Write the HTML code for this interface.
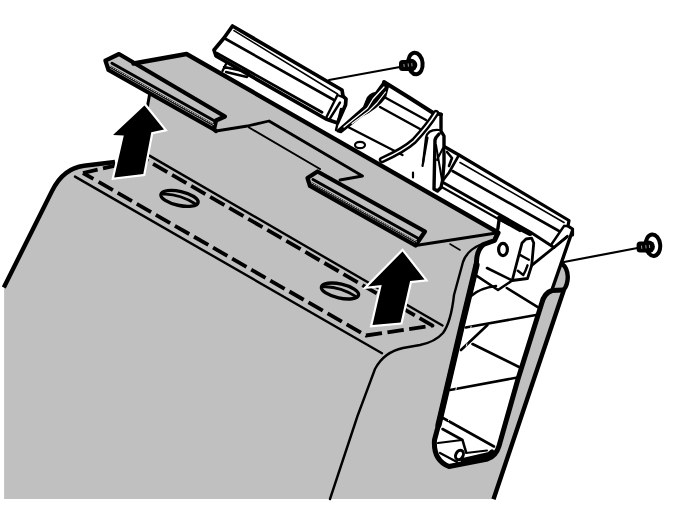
<!DOCTYPE html>
<html><head><meta charset="utf-8">
<style>
html,body{margin:0;padding:0;background:#fff;width:674px;height:505px;overflow:hidden;font-family:"Liberation Sans",sans-serif}
svg{display:block}
</style></head><body>
<svg width="674" height="505" viewBox="0 0 674 505" fill="none" stroke="#000" stroke-linecap="round" stroke-linejoin="round">
<rect width="674" height="505" fill="#fff" stroke="none"/>

<!-- GRAY BODY -->
<path id="gray" fill="#c0c0c0" stroke="none" d="M4.1,499 L4.1,287 L52,191 Q63.3,168.3 84,165.8 L115,162 L147,157 L149,94 L108.5,70 L105.4,60.6 L119,54 L133.5,63.5 L186.5,54 L498,232.5 L494.5,240.5 L483.5,244.5 L477,256 L476,267.5 L461,325 L437.5,425 L434,440 Q433,460 449,466.5 L487.5,459 Q496,456 498.5,446 L517.5,379 L541,304 Q543.5,293 552,290.5 L553,288 L562,263.7 Q567.6,268 567.8,277 Q567.6,285 564,289.5 L493.5,499 Z"/>

<!-- BACK WHITE PARTS -->
<g id="back" stroke-width="2.4">
<!-- bar 1 -->
<path fill="#fff" d="M232.5,26 L342,90 L343,96 L346,99 L345.5,105 L337.5,123 L326,119 L216,56 L214,50 L224,38 Z" stroke-width="3.7"/>
<path d="M234,30.6 L337.5,94" stroke-width="1.6"/>
<path d="M224,38 L334,100" stroke-width="2.6"/>
<path d="M217,53.2 L322,112.2" stroke-width="2.8"/>
<path d="M337.5,95 L326,118 M340,102.5 L329,120 M337.5,95 L345,98 M341,109 L336,130" stroke-width="2.4"/>
<!-- bar1 leg -->
<path d="M226,64 L222.5,71 M224,67 L248,72 M226,72 L247,77 L250,72" stroke-width="2.4"/>
<!-- screw 1 -->
<path d="M329,80 L400,67" stroke-width="2.2"/>
<g transform="translate(415.4,63.5)"><ellipse rx="7.2" ry="10.8" transform="rotate(-6)" stroke-width="4" fill="#fff"/><rect x="-16.4" y="-3.6" width="12" height="11" rx="3.5" fill="#000" stroke="none"/><circle cx="-4.4" cy="1.6" r="6.3" fill="#000" stroke="none"/><path d="M-11.5,0.8 L-11.2,3.2 M-7.2,0.3 L-7,2.8 M-3.6,0 L-3.4,2.4" stroke="#fff" stroke-width="0.6"/></g>
<!-- cradle -->
<path d="M384,82 L376,93 Q369,94.5 367,100 L364,107.5 L337.5,131 L341,132 L361,116 Q377,108 385,97 L388,86 Z" fill="#000" stroke-width="2.4"/>
<path d="M384,87 L373,99 L367.5,108 L344,127" stroke="#fff" stroke-width="1.3"/><path d="M385.5,92 L377,103 L369,111 L352,123.5" stroke="#fff" stroke-width="1.2"/>
<path d="M384,82 L409,97.5 L432.5,112.5 L441,114.4" stroke-width="4"/>
<path d="M386,98 L426,120 M380,107 L420,129" stroke-width="2.4"/>
<path d="M349,127.5 L402.5,155" stroke-width="2.4"/>
<path d="M436,113 Q428,126 414,141 Q404,150 382,160" stroke-width="6.4"/>
<path d="M436,113 Q428,126 414,141 Q404,150 382,160" stroke-width="1.6" stroke="#fff"/>
<ellipse cx="360" cy="145" rx="5" ry="3.2" stroke-width="2.2"/>
<!-- post -->
<path d="M441,114.4 L441,131 L444,136 L444,163 L442.5,181 L441,187.5 L437.5,191 L434,189 L435,140 L436,137.5 L439,134" stroke-width="3.4"/>
<path d="M423,163 L426,137.5 Q428,129 439,130" stroke-width="2.2"/>
<path d="M427.5,137.5 L422.5,166 M413,172.5 L413,177.5" stroke-width="2.2"/>
<path d="M436,145 L442,180 M437,160 L443,148" stroke-width="2"/>
<!-- bar 2 -->
<path fill="#fff" d="M445,147 L459,155 L569,220.5 L568,226 L572.5,229 L572.5,235 L562.5,258 L541,258 L554,247.5 L442.5,187.5 L449,172.5 Z" stroke="none"/>
<path d="M445,147 L459,155 L569,220.5 L568,226 L572.5,229 L572.5,235" stroke-width="3.2"/>
<path d="M459,155 L449,172.5 L442.5,181 M447,152 L452,158 L449,166" stroke-width="2.6"/>
<path d="M460,162.5 L564,222.5" stroke-width="1.6"/>
<path d="M452.5,171 L559,231" stroke-width="2.6"/>
<path d="M444,183 L531,232.5 L554,247.5" stroke-width="3"/>
<path d="M442.5,187.5 L520,231" stroke-width="2.2"/>
<path d="M564,226 L551,245 M567.5,236 L554,247.5 M568,226 L564,226" stroke-width="2.4"/>
<!-- bracket near corner -->
<path d="M499.3,218.4 L497.8,229" stroke-width="3.4"/><path d="M499.5,218 L530,233.5" stroke-width="5"/>
<ellipse cx="503" cy="249.5" rx="4.4" ry="6.2" stroke-width="3.2"/>
<path d="M512.2,280.5 L522,243 L526,239 L531.7,238.2 L533.75,243 L531.7,265.3 L527.5,278.5 Z" stroke-width="2.8"/>
<path d="M519.9,254.9 L528.9,259.7 M517.8,270.8 L523.3,275 Q526,270 527.5,265.3" stroke-width="2.4"/>
<path d="M531.7,265.3 L567,237" stroke-width="2.8"/>
<path d="M572,232 L552.6,288" stroke-width="3.4"/>
<!-- screw 2 -->
<path d="M564,262 L637.5,248" stroke-width="2.2"/>
<g transform="translate(653,245.2)"><ellipse rx="7.2" ry="10.8" transform="rotate(-6)" stroke-width="4" fill="#fff"/><rect x="-16.4" y="-3.6" width="12" height="11" rx="3.5" fill="#000" stroke="none"/><circle cx="-4.4" cy="1.6" r="6.3" fill="#000" stroke="none"/><path d="M-11.5,0.8 L-11.2,3.2 M-7.2,0.3 L-7,2.8 M-3.6,0 L-3.4,2.4" stroke="#fff" stroke-width="0.6"/></g>
</g>

<g id="inner" stroke-width="2.6">
<path d="M465.7,327.5 L536,315"/>
<path d="M487.5,325 L461,350"/>
<path d="M472.5,344 L520,367.5"/>
<path d="M450,390 L517.5,377.5"/>
<path d="M443,418 L494,446.5"/>
<path d="M442.5,429 L462.5,440 L466,452"/>
<path d="M506.8,288 L539,307.8"/>
<path d="M476.4,275.7 L498,290 L504,286 L512.2,280.5"/>
<path d="M471,296 Q480,288 496,286"/>
<path d="M487,268 L512.2,280.5"/>
<path d="M438,443 L462,440 M440,453 L457,462" stroke-width="2.2"/>
<path d="M463,460.5 L489,454.5 L492,452" stroke-width="5"/>
<path d="M466,453 L487,450.5" stroke-width="2"/>
<ellipse cx="459.5" cy="455" rx="3.6" ry="5" transform="rotate(28 459.5 455)" stroke-width="3"/>
</g>

<g id="lines">
<!-- cover outline top-left -->
<path d="M3.8,287.5 L52,191 Q63.3,168.3 84,165.8 L115,162" stroke-width="4.4" stroke-linecap="butt"/>
<!-- outer right line -->
<path d="M562,263.7 Q567.6,268 567.8,277 Q567.6,285 564,289.5 L493.5,499.3" stroke-width="4.4" stroke-linecap="butt"/>
<!-- opening thick outline -->
<path d="M498,233 L494.5,240.5 L483.5,244.5 Q478,249 476.8,258 L476,267.5 L462,325 L438.5,425 L434.5,440 Q433,460 449,466.5 L487.5,459 Q496,456 499,446 L518,379 L541.5,304 Q544,293 552,290.5 L563,290" stroke-width="5"/>
<path d="M476.5,265 L462,325 L438.5,425" stroke-width="6.2"/>
<path d="M477.5,300 L463.7,357 L447,427" stroke-width="0.9" stroke="#fff" stroke-dasharray="2.5 2"/>
<!-- bevel thin line -->
<path d="M75,176.6 L382,353.2" stroke-width="2.4"/>
<path d="M482,244 Q467,250 463,262 L454,295 Q451,322 443,333 Q435,342 420,345 L403,348 Q384,352 375,369 L357.5,416 L330,499" stroke-width="2.4"/>
<!-- thin solid upper -->
<path d="M149.4,155.6 L442.5,325.5" stroke-width="2.4"/>
<!-- dashed rect -->
<path d="M83,173 L144.6,158.9" stroke-width="3.8" stroke-dasharray="15 5.5" stroke-linecap="butt"/>
<path d="M83,173 L366,335.5 L432.5,325.6 L144.6,158.9" stroke-width="3.8" stroke-dasharray="12 6 16.5 5.5 16.5 5.5 16.5 5.5 16.5 5.5 16.5 5.5 16.5 5.5 16.5 5.5 16.5 5.5 16.5 5.5 16.5 5.5 16.5 5.5 16.5 5.5 16.5 5.5 16.5 5.5 16.5 5.5 16.5 5.5 16.5 5.5 16.5 5.5 16.5 5.5 16.5 5.5 16.5 5.5 16.5 5.5 16.5 5.5 16.5 5.5 16.5 5.5 16.5 5.5 16.5 5.5 16.5 5.5 16.5 5.5 16.5 5.5 16.5 5.5 16.5 5.5 16.5 5.5 16.5 5.5 16.5 5.5 16.5 5.5 16.5 5.5 16.5 5.5 16.5 5.5 16.5 5.5" stroke-linecap="butt"/>
<!-- holes -->
<g stroke-width="3.4">
<ellipse cx="179.5" cy="198.4" rx="19" ry="7" transform="rotate(12.5 179.5 198.4)"/>
<path d="M163.4,194.2 Q179.1,193.5 196.4,204.5" stroke-width="2.8"/>
<ellipse cx="340" cy="291" rx="19" ry="7" transform="rotate(12.5 340 291)"/>
<path d="M323.9,286.8 Q339.6,286.1 356.9,297.1" stroke-width="2.8"/>
</g>
<!-- plate back edge -->
<path d="M133.5,63.5 L186.5,54 L498,232.5" stroke-width="4.4"/>
<!-- plate front edge -->
<path d="M216,131 L247.5,126 L269,121 L362.5,176 L340,180" stroke-width="2.8"/>
<path d="M249,127.5 L320,169" stroke-width="2"/>
<path d="M415.5,245.5 L498,232.8" stroke-width="3"/>
<!-- rail 1 -->
<path d="M105.4,60.6 L119,54 L225,116.5 L216,120.5 L214,129.5 L216,131 M105.4,60.6 L108.5,70 L214,129.5" stroke-width="4.2"/>
<path d="M112,63.2 L216,121.7" stroke-width="3"/>
<path d="M110.5,67 L214.5,125.5" stroke-width="2.2"/>
<path d="M110.5,66.6 L214.5,125.1" stroke-width="0.9" stroke="#d8d8d8" stroke-dasharray="1.2 1.4"/>
<!-- rail 2 -->
<path d="M317.5,171.5 L425,231.5 L415.5,245.5 L310,186 L307.5,178 Z" stroke-width="4.2"/>
<path d="M313,179.5 L418,238.3" stroke-width="3"/>
<path d="M311.5,183.3 L416.5,242.1" stroke-width="2.2"/>
<path d="M311.5,182.9 L416.5,241.7" stroke-width="0.9" stroke="#d8d8d8" stroke-dasharray="1.2 1.4"/>
<path d="M450,244 L460,250" stroke-width="1.6"/>
<path d="M149.5,95 L147.5,106" stroke-width="3"/>
<!-- arrows -->
<g fill="#000" stroke="#fff" stroke-width="4.4" stroke-linejoin="miter" style="paint-order:stroke">
<path d="M144.5,105.5 L164,129.5 L151.3,132.3 L143.3,174 L114.2,177.5 L123.8,135.5 L113,135 Z"/>
<path d="M402.5,251.5 L424.5,279.5 L410.1,281 L400.6,322.5 L372.5,325 L381.7,285 L368,286.5 Z"/>
</g>
</g>
</svg>
</body></html>
